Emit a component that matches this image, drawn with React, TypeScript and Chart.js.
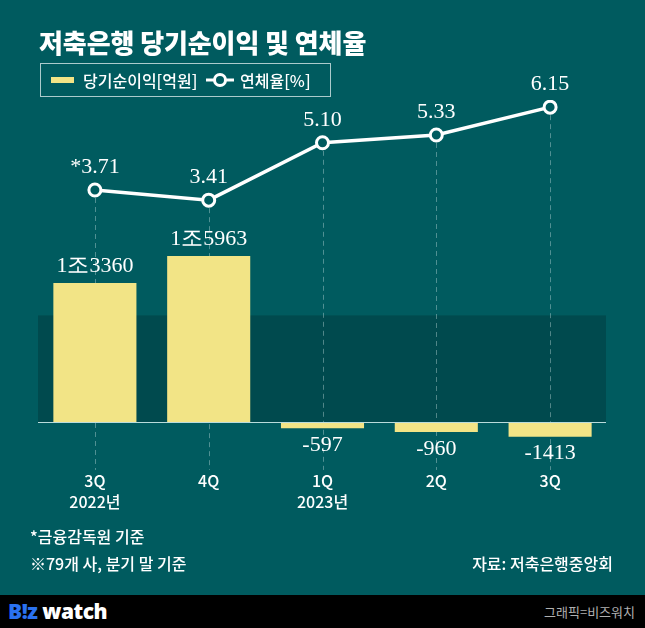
import React, { useEffect, useRef } from "react";
import { Chart, registerables } from "chart.js";
Chart.register(...registerables);

const categories: string[][] = [["3Q", "2022년"], ["4Q"], ["1Q", "2023년"], ["2Q"], ["3Q"]];
const netIncome = [13360, 15963, -597, -960, -1413];
const netIncomeLabels = ["1조3360", "1조5963", "-597", "-960", "-1413"];
const delinquency = [3.71, 3.41, 5.1, 5.33, 6.15];
const delinquencyLabels = ["*3.71", "3.41", "5.10", "5.33", "6.15"];

const BG = "#005b5f";
const BAND = "#004a4e";
const BAR = "#f2e486";
const SANS = "'Noto Sans CJK KR', 'Noto Sans', sans-serif";
const SERIF = "'Liberation Serif', 'DejaVu Serif', serif";

const decorPlugin = {
  id: "decor",
  beforeDatasetsDraw(chart: any) {
    const { ctx, chartArea } = chart;
    const yb = chart.scales.yBar;
    const zero = yb.getPixelForValue(0);
    const top = yb.getPixelForValue(10240);
    ctx.save();
    ctx.fillStyle = BAND;
    ctx.fillRect(chartArea.left, top, chartArea.right - chartArea.left - 1, zero - top);
    const lineMeta = chart.getDatasetMeta(1);
    ctx.strokeStyle = "rgba(200,225,225,0.4)";
    ctx.lineWidth = 1;
    ctx.setLineDash([5, 4]);
    lineMeta.data.forEach((pt: any) => {
      ctx.beginPath();
      ctx.moveTo(Math.round(pt.x) + 0.5, pt.y + 8);
      ctx.lineTo(Math.round(pt.x) + 0.5, zero + 48);
      ctx.stroke();
    });
    ctx.restore();
  },
  afterDatasetsDraw(chart: any) {
    const { ctx, chartArea } = chart;
    const yb = chart.scales.yBar;
    const zero = yb.getPixelForValue(0);
    ctx.save();
    ctx.strokeStyle = "#b9dcdc";
    ctx.lineWidth = 1;
    ctx.beginPath();
    ctx.moveTo(chartArea.left, Math.round(zero) + 0.5);
    ctx.lineTo(chartArea.right - 1, Math.round(zero) + 0.5);
    ctx.stroke();

    ctx.fillStyle = "#ffffff";
    ctx.textAlign = "center";
    ctx.textBaseline = "middle";
    ctx.font = `22px ${SERIF}`;
    const barMeta = chart.getDatasetMeta(0);
    barMeta.data.forEach((bar: any, i: number) => {
      const v = netIncome[i];
      const y = v >= 0 ? bar.y - 17 : bar.y + 17;
      ctx.fillText(netIncomeLabels[i], bar.x, y);
    });
    const lineMeta = chart.getDatasetMeta(1);
    lineMeta.data.forEach((pt: any, i: number) => {
      ctx.fillText(delinquencyLabels[i], pt.x, pt.y - 22.5);
    });
    ctx.restore();
  },
};

export default function App() {
  const ref = useRef<HTMLCanvasElement | null>(null);
  useEffect(() => {
    if (!ref.current) return;
    const chart = new Chart(ref.current, {
      data: {
        labels: categories,
        datasets: [
          {
            type: "bar",
            label: "당기순이익[억원]",
            data: netIncome,
            backgroundColor: BAR,
            borderWidth: 0,
            categoryPercentage: 1,
            barPercentage: 0.73,
            yAxisID: "yBar",
            order: 2,
          },
          {
            type: "line",
            label: "연체율[%]",
            data: delinquency,
            borderColor: "#ffffff",
            borderWidth: 3.5,
            pointRadius: 6,
            pointBorderWidth: 3,
            pointBackgroundColor: BG,
            pointBorderColor: "#ffffff",
            yAxisID: "yLine",
            order: 1,
          },
        ],
      } as any,
      options: {
        responsive: false,
        animation: false,
        layout: { padding: { left: 38, right: 38, top: 100, bottom: 106 } },
        plugins: { legend: { display: false }, title: { display: false }, tooltip: { enabled: false } },
        scales: {
          x: {
            grid: { display: false, drawTicks: false, tickLength: 0 },
            border: { display: false },
            afterFit(scale: any) {
              scale.height = 60;
            },
            ticks: {
              color: "#ffffff",
              font: { family: SANS, size: 16, weight: "500", lineHeight: 1.3 },
              padding: 9,
              maxRotation: 0,
              autoSkip: false,
            },
          },
          yBar: {
            display: false,
            min: -3850,
            max: 30950,
          },
          yLine: {
            display: false,
            min: -4.304,
            max: 6.361,
          },
        },
      } as any,
      plugins: [decorPlugin],
    });
    return () => chart.destroy();
  }, []);

  return (
    <div
      style={{
        position: "absolute",
        left: 0,
        top: 0,
        width: 645,
        height: 628,
        background: BG,
        overflow: "hidden",
        fontFamily: SANS,
        color: "#ffffff",
      }}
    >
      <canvas ref={ref} width={645} height={628} style={{ position: "absolute", left: 0, top: 0 }} />
      <div style={{ position: "absolute", left: 39, top: 25, fontSize: 26, fontWeight: 900, lineHeight: "34px", whiteSpace: "nowrap", letterSpacing: -0.1 }}>
        저축은행 당기순이익 및 연체율
      </div>
      <div
        style={{
          position: "absolute",
          left: 40,
          top: 63,
          width: 291,
          height: 34,
          border: "1px solid rgba(230,240,240,0.75)",
          boxSizing: "border-box",
        }}
      >
        <div style={{ position: "absolute", left: 10, top: 13, width: 23, height: 6, background: BAR }} />
        <div style={{ position: "absolute", left: 42, top: 4, fontSize: 16, fontWeight: 500, lineHeight: "24px", whiteSpace: "nowrap" }}>당기순이익[억원]</div>
        <svg style={{ position: "absolute", left: 164, top: 6 }} width={30} height={20}>
          <line x1={1} y1={10} x2={29} y2={10} stroke="#ffffff" strokeWidth={3} />
          <circle cx={15} cy={10} r={5.5} fill={BG} stroke="#ffffff" strokeWidth={3} />
        </svg>
        <div style={{ position: "absolute", left: 199, top: 4, fontSize: 16, fontWeight: 500, lineHeight: "24px", whiteSpace: "nowrap" }}>연체율[%]</div>
      </div>
      <div style={{ position: "absolute", left: 30, top: 525, fontSize: 16, fontWeight: 500, lineHeight: "22px", whiteSpace: "nowrap" }}>*금융감독원 기준</div>
      <div style={{ position: "absolute", left: 30, top: 552, fontSize: 16, fontWeight: 500, lineHeight: "22px", whiteSpace: "nowrap" }}>※79개 사, 분기 말 기준</div>
      <div style={{ position: "absolute", right: 32, top: 552, fontSize: 16, fontWeight: 500, lineHeight: "22px", whiteSpace: "nowrap" }}>자료: 저축은행중앙회</div>
      <div style={{ position: "absolute", left: 0, top: 595, width: 645, height: 33, background: "#000000" }}>
        <div style={{ position: "absolute", left: 8, top: 2, fontSize: 21, fontWeight: 800, lineHeight: "28px", fontFamily: "'Open Sans', 'Noto Sans', sans-serif", letterSpacing: -0.5, whiteSpace: "nowrap" }}>
          <span style={{ color: "#2a72f0" }}>B!z</span>
          <span style={{ color: "#ffffff" }}> watch</span>
        </div>
        <div style={{ position: "absolute", right: 10, top: 7, fontSize: 13, lineHeight: "20px", color: "#b0b0b0", whiteSpace: "nowrap" }}>그래픽=비즈워치</div>
      </div>
    </div>
  );
}
